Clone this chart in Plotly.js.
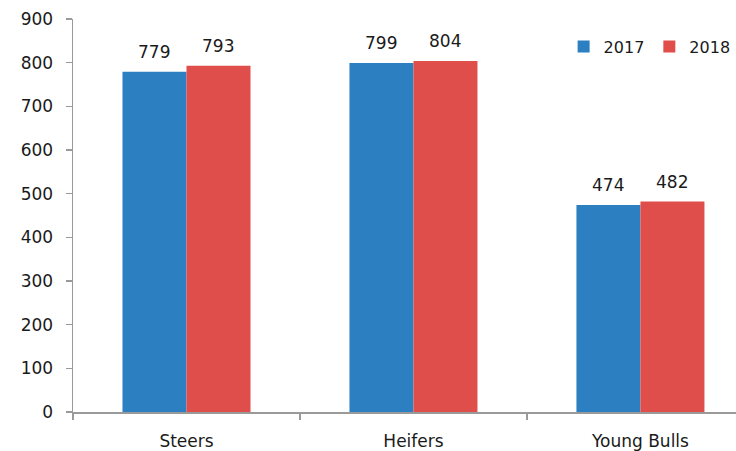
<!DOCTYPE html>
<html>
<head>
<meta charset="utf-8">
<script src="https://cdn.plot.ly/plotly-3.0.1.min.js"></script>
<style>html,body{margin:0;padding:0;background:#fff;}#chart{width:736px;height:451px;}</style>
</head>
<body>
<div id="chart"></div>
<script>
const categories = ["Steers", "Heifers", "Young Bulls"];
const seriesNames = ["2017", "2018"];
const values2017 = [779, 799, 474];
const values2018 = [793, 804, 482];
const colors = ["#2C7FC0", "#E04E4B"];

const FONT = "DejaVu Sans, Verdana, sans-serif";
const TXT = "#1a1a1a";

const traces = [
  {type: "bar", name: seriesNames[0], x: categories, y: values2017, marker: {color: colors[0]}, hoverinfo: "none"},
  {type: "bar", name: seriesNames[1], x: categories, y: values2018, marker: {color: colors[1]}, hoverinfo: "none"}
];

const annotations = [];
[values2017, values2018].forEach((vals, si) => {
  vals.forEach((v, i) => {
    annotations.push({
      x: categories[i], y: v, xref: "x", yref: "y",
      text: String(v), showarrow: false,
      xshift: si === 0 ? -32 : 32, yanchor: "bottom", yshift: 8,
      font: {family: FONT, size: 17, color: TXT}
    });
  });
});

const layout = {
  width: 736, height: 451,
  margin: {l: 73, r: 0, t: 19, b: 39, autoexpand: false},
  paper_bgcolor: "#fff", plot_bgcolor: "#fff",
  barmode: "group", bargap: 0.436, bargroupgap: 0,
  font: {family: FONT, size: 17, color: TXT},
  showlegend: true,
  legend: {orientation: "h", x: 0.74, y: 0.93, xanchor: "left", yanchor: "middle",
           font: {family: FONT, size: 16, color: TXT}, bgcolor: "rgba(0,0,0,0)"},
  xaxis: {
    range: [-0.5, 2.421], showline: true, linecolor: "#9a9a9a", linewidth: 1.5,
    ticks: "outside", tickson: "boundaries", ticklen: 6, tickcolor: "#9a9a9a", tickwidth: 1.5,
    showgrid: false, zeroline: false, ticklabelstandoff: 13,
    tickfont: {family: FONT, size: 17, color: TXT}
  },
  yaxis: {
    range: [0, 900], dtick: 100, showline: true, linecolor: "#9a9a9a", linewidth: 1.5,
    ticks: "outside", ticklen: 6, tickcolor: "#9a9a9a", tickwidth: 1.5,
    showgrid: false, zeroline: false, ticklabelstandoff: 9,
    tickfont: {family: FONT, size: 17, color: TXT}
  },
  annotations: annotations
};

Plotly.newPlot("chart", traces, layout, {displayModeBar: false, staticPlot: true});
</script>
</body>
</html>
